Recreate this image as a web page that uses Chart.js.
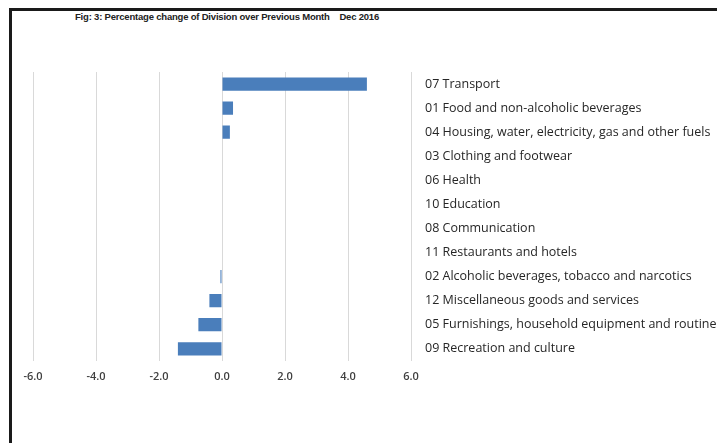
<!DOCTYPE html>
<html>
<head>
<meta charset="utf-8">
<script src="https://cdn.jsdelivr.net/npm/chart.js@4"></script>
<style>
  html, body { margin: 0; padding: 0; background: #fff; }
  body { width: 717px; height: 443px; position: relative; overflow: hidden; }
  #frame {
    position: absolute; left: 9px; top: 8px; right: 0; bottom: 0;
    border-top: 3px solid #1a1a1a; border-left: 3px solid #1a1a1a;
  }
  #title {
    position: absolute; left: 75px; top: 11px;
    font: bold 9.5px "Liberation Sans", sans-serif; letter-spacing: -0.2px;
    color: #222; white-space: pre;
  }
  #wrap { position: absolute; left: 12px; top: 11px; width: 705px; height: 432px; }
</style>
</head>
<body>
<div id="frame"></div>
<div id="title">Fig: 3: Percentage change of Division over Previous Month    Dec 2016</div>
<div id="wrap"><canvas id="chart"></canvas></div>
<script>
    // divisions, top to bottom as in the figure
    var divisions = [
        '07 Transport',
        '01 Food and non-alcoholic beverages',
        '04 Housing, water, electricity, gas and other fuels',
        '03 Clothing and footwear',
        '06 Health',
        '10 Education',
        '08 Communication',
        '11 Restaurants and hotels',
        '02 Alcoholic beverages, tobacco and narcotics',
        '12 Miscellaneous goods and services',
        '05 Furnishings, household equipment and routine household maintenance',
        '09 Recreation and culture'
    ];

    // % change over previous month, Dec 2016
    var pctChange = [4.6, 0.35, 0.25, 0, 0, 0, 0, 0, -0.05, -0.4, -0.75, -1.4];

    var xTicks = [-6, -4, -2, 0, 2, 4, 6];

    var ctx = document.getElementById('chart').getContext('2d');

    new Chart(ctx, {
        type: 'bar',
        data: {
            labels: divisions,
            datasets: [{
                label: '% change',
                data: pctChange,
                backgroundColor: '#4a7ebb',
                borderWidth: 0,
                barPercentage: 0.55,
                categoryPercentage: 1
            }]
        },
        options: {
            indexAxis: 'y',
            responsive: true,
            maintainAspectRatio: false,
            animation: false,
            layout: { padding: { left: 21, top: 61, bottom: 51, right: 0 } },
            plugins: {
                legend: { display: false },
                title: { display: false },
                tooltip: { enabled: false }
            },
            scales: {
                x: {
                    min: xTicks[0],
                    max: xTicks[xTicks.length - 1],
                    afterBuildTicks: function(scale) {
                        scale.ticks = xTicks.map(function(v) { return { value: v }; });
                    },
                    grid: { color: '#d9d9d9', drawTicks: false },
                    border: { display: false },
                    ticks: {
                        padding: 9,
                        color: '#404040',
                        font: { family: 'Open Sans', size: 11, weight: '600' },
                        callback: function(v) { return Number(v).toFixed(1); }
                    }
                },
                y: {
                    position: 'right',
                    grid: { display: false, drawTicks: false },
                    border: { display: false },
                    afterFit: function(scale) { scale.width = 306; },
                    ticks: {
                        padding: 14,
                        color: '#262626',
                        autoSkip: false,
                        font: { family: 'Open Sans', size: 12.5 }
                    }
                }
            }
        }
    });
</script>
</body>
</html>
